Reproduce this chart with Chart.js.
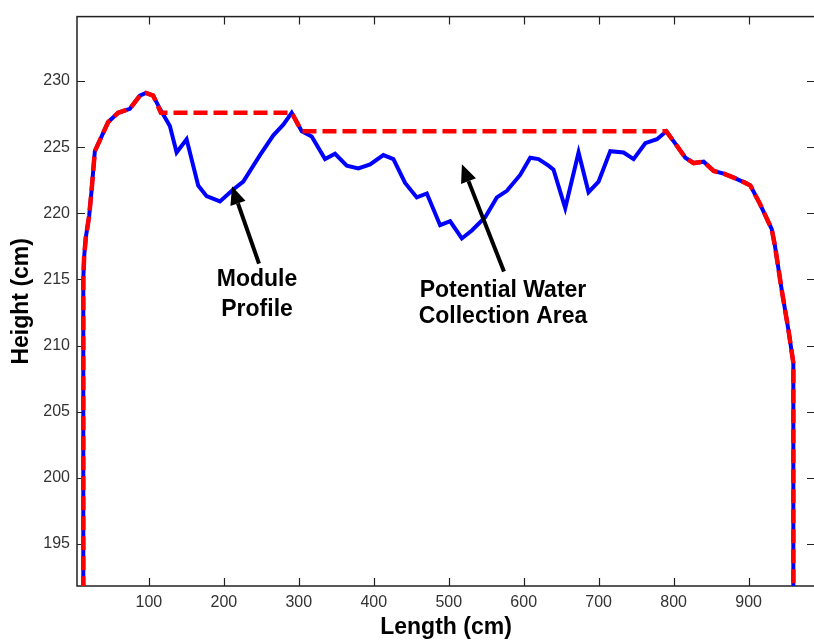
<!DOCTYPE html>
<html>
<head>
<meta charset="utf-8">
<script src="https://cdn.jsdelivr.net/npm/chart.js@4/dist/chart.umd.min.js"></script>
<style>
  html, body { margin: 0; padding: 0; background: #fff; overflow: hidden; }
  canvas { display: block; }
</style>
</head>
<body>
<canvas id="canvas" width="816" height="641"></canvas>
<script>
// module profile (blue) : length (cm) / height (cm)
const profileX = [12.5, 12.5, 13.6, 15.9, 20.3, 23.5, 27.9, 36.8, 45.7, 59.0,
  74.6, 88.0, 96.0, 105.7, 114.7, 128.0, 137.0, 150.3, 165.8, 177.0,
  194.8, 212.5, 225.9, 248.2, 266.0, 279.3, 290.5, 303.9, 317.2, 335.0,
  348.3, 364.0, 379.4, 395.1, 412.8, 426.2, 441.8, 457.4, 470.8, 488.5,
  501.9, 517.5, 530.8, 548.6, 564.2, 577.6, 595.3, 608.7, 619.8, 633.1,
  639.8, 655.4, 673.2, 686.5, 699.9, 715.5, 733.2, 746.6, 762.2, 777.8,
  790.3, 804.5, 815.6, 826.7, 840.1, 853.4, 866.8, 880.1, 895.7, 902.4,
  915.3, 930.9, 935.3, 944.2, 953.1, 959.7, 959.7]
const profileY = [190, 215, 216.7, 218.2, 219.8, 221.7, 224.7, 225.8, 226.9, 227.6,
  227.9, 228.9, 229.1, 228.9, 227.9, 226.6, 224.6, 225.6, 222.1, 221.3,
  220.9, 221.8, 222.4, 224.4, 225.9, 226.7, 227.6, 226.2, 225.8, 224.1,
  224.5, 223.6, 223.4, 223.7, 224.4, 224.1, 222.3, 221.2, 221.5, 219.1,
  219.4, 218.1, 218.7, 219.7, 221.2, 221.7, 222.9, 224.2, 224.1, 223.6,
  223.3, 220.4, 224.6, 221.6, 222.4, 224.7, 224.6, 224.1, 225.3, 225.6,
  226.2, 225.1, 224.2, 223.8, 223.9, 223.2, 223.0, 222.7, 222.3, 222.1,
  220.7, 218.8, 217.5, 214.2, 211.2, 208.7, 190]

// water collection envelope (red dashed)
const waterX = [12.5, 12.5, 13.6, 15.9, 20.3, 23.5, 27.9, 36.8, 45.7, 59.0,
  74.6, 88.0, 96.0, 105.7, 116.0, 290.5, 303.9, 790.3, 804.5, 815.6,
  826.7, 840.1, 853.4, 866.8, 880.1, 895.7, 902.4, 915.3, 930.9, 935.3,
  944.2, 953.1, 959.7, 959.7]
const waterY = [190, 215, 216.7, 218.2, 219.8, 221.7, 224.7, 225.8, 226.9, 227.6,
  227.9, 228.9, 229.1, 228.9, 227.6, 227.6, 226.2, 226.2, 225.1, 224.2,
  223.8, 223.9, 223.2, 223.0, 222.7, 222.3, 222.1, 220.7, 218.8, 217.5,
  214.2, 211.2, 208.7, 190]

const xTicks = [100, 200, 300, 400, 500, 600, 700, 800, 900]
const yTicks = [195, 200, 205, 210, 215, 220, 225, 230]

// annotations, in data units
const labels = [
  {lines: ['Module', 'Profile'], x: 244.3, y: [214.48, 212.24]},
  {lines: ['Potential Water', 'Collection Area'], x: 572.4, y: [213.71, 211.68]},
]
const arrows = [
  {from: [246.9, 216.2], to: [210.9, 222.04]},
  {from: [573.7, 215.6], to: [517.6, 223.7]},
]

const pts = (xs, ys) => xs.map((x, i) => ({x: x, y: ys[i]}))
const textFont = 'bold 23px "Liberation Sans", Arial, sans-serif'

const frame = {
  id: 'frame',
  beforeDatasetsDraw(chart) {
    const {ctx, chartArea: a, scales} = chart
    ctx.save()
    ctx.strokeStyle = '#222'
    ctx.lineWidth = 1.5
    ctx.strokeRect(a.left, a.top, a.right - a.left, a.bottom - a.top)
    ctx.beginPath()
    xTicks.forEach(v => {
      const px = Math.round(scales.x.getPixelForValue(v)) + 0.5
      ctx.moveTo(px, a.bottom); ctx.lineTo(px, a.bottom - 8)
      ctx.moveTo(px, a.top); ctx.lineTo(px, a.top + 8)
    })
    yTicks.forEach(v => {
      const py = Math.round(scales.y.getPixelForValue(v)) + 0.5
      ctx.moveTo(a.left, py); ctx.lineTo(a.left + 8, py)
      ctx.moveTo(a.right, py); ctx.lineTo(a.right - 8, py)
    })
    ctx.lineWidth = 1.2
    ctx.stroke()
    ctx.restore()
  },
  afterDatasetsDraw(chart) {
    const {ctx, scales} = chart
    const X = v => scales.x.getPixelForValue(v)
    const Y = v => scales.y.getPixelForValue(v)
    ctx.save()
    ctx.fillStyle = '#000'
    ctx.strokeStyle = '#000'
    arrows.forEach(ar => {
      const x0 = X(ar.from[0]), y0 = Y(ar.from[1])
      const x1 = X(ar.to[0]), y1 = Y(ar.to[1])
      const ang = Math.atan2(y1 - y0, x1 - x0)
      const hl = 18, hw = 8
      const bx = x1 - hl * Math.cos(ang), by = y1 - hl * Math.sin(ang)
      ctx.lineWidth = 4
      ctx.beginPath()
      ctx.moveTo(x0, y0); ctx.lineTo(bx, by)
      ctx.stroke()
      ctx.beginPath()
      ctx.moveTo(x1, y1)
      ctx.lineTo(bx + hw * Math.sin(ang), by - hw * Math.cos(ang))
      ctx.lineTo(bx - hw * Math.sin(ang), by + hw * Math.cos(ang))
      ctx.closePath()
      ctx.fill()
    })
    ctx.font = textFont
    ctx.textAlign = 'center'
    ctx.textBaseline = 'alphabetic'
    labels.forEach(l => {
      l.lines.forEach((t, i) => ctx.fillText(t, X(l.x), Y(l.y[i])))
    })
    ctx.restore()
  }
}

const tickFont = {family: '"Liberation Sans Narrow", "Liberation Sans", Arial, sans-serif', size: 16}
const titleFont = {family: '"Liberation Sans", Arial, sans-serif', size: 23, weight: 'bold'}

new Chart(document.getElementById('canvas').getContext('2d'), {
  type: 'line',
  data: {
    datasets: [
      {
        label: 'Water collection',
        data: pts(waterX, waterY),
        borderColor: '#ff0000',
        borderWidth: 4.5,
        borderDash: [14, 6],
        pointRadius: 0,
        fill: false,
        tension: 0,
      },
      {
        label: 'Module profile',
        data: pts(profileX, profileY),
        borderColor: '#0000ff',
        borderWidth: 4,
        pointRadius: 0,
        fill: false,
        tension: 0,
      },
    ],
  },
  options: {
    responsive: false,
    animation: false,
    devicePixelRatio: 1,
    layout: {padding: {top: 11, right: 1, left: 0, bottom: 0}},
    plugins: {
      legend: {display: false},
      tooltip: {enabled: false},
    },
    scales: {
      x: {
        type: 'linear',
        min: 4.1,
        max: 988.6,
        afterBuildTicks: s => { s.ticks = xTicks.map(v => ({value: v})) },
        afterFit: s => { s.height = 55 },
        grid: {display: false, drawTicks: false},
        border: {display: false},
        ticks: {font: tickFont, color: '#333', padding: 7, maxRotation: 0, autoSkip: false},
        title: {display: true, text: 'Length (cm)', font: titleFont, color: '#000', padding: {top: 0, bottom: 0}},
      },
      y: {
        type: 'linear',
        min: 191.83,
        max: 234.87,
        afterBuildTicks: s => { s.ticks = yTicks.map(v => ({value: v})) },
        afterFit: s => { s.width = 77 },
        grid: {display: false, drawTicks: false},
        border: {display: false},
        ticks: {font: tickFont, color: '#333', padding: 7, autoSkip: false},
        title: {display: true, text: 'Height (cm)', font: titleFont, color: '#000', padding: {top: 8, bottom: 0}},
      },
    },
  },
  plugins: [frame],
})
</script>
</body>
</html>
